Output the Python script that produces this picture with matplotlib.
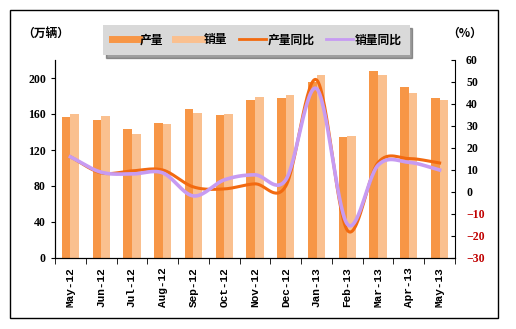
import numpy as np
import matplotlib
matplotlib.use("Agg")
import matplotlib.pyplot as plt
from matplotlib.lines import Line2D
from matplotlib.patches import Rectangle

months = ["May-12", "Jun-12", "Jul-12", "Aug-12", "Sep-12", "Oct-12", "Nov-12",
          "Dec-12", "Jan-13", "Feb-13", "Mar-13", "Apr-13", "May-13"]
production = [157, 153, 143, 150, 166, 159, 176, 178, 196, 134, 208, 190, 178]
sales = [160, 158, 138, 149, 161, 160, 179, 181, 203, 136, 203, 183, 176]
prod_yoy = [16.0, 8.7, 9.6, 10.0, 2.3, 1.4, 3.7, 2.7, 51.0, -17.4, 13.4, 15.2, 13.2]
sales_yoy = [16.0, 9.0, 8.2, 8.7, -1.8, 5.5, 7.8, 5.5, 47.0, -14.6, 12.2, 13.5, 10.0]

c_prod = "#F79646"
c_sales = "#FAC08F"
c_pline = "#F26A10"
c_sline = "#C79BF2"

cjk = ["Noto Sans CJK SC", "DejaVu Sans"]


def smooth(xs, ys, n=30):
    xs = np.asarray(xs, float)
    ys = np.asarray(ys, float)
    px = np.concatenate([[2 * xs[0] - xs[1]], xs, [2 * xs[-1] - xs[-2]]])
    py = np.concatenate([[2 * ys[0] - ys[1]], ys, [2 * ys[-1] - ys[-2]]])
    ox, oy = [], []
    for i in range(1, len(px) - 2):
        t = np.linspace(0, 1, n, endpoint=False)
        for arr, out in ((px, ox), (py, oy)):
            p0, p1, p2, p3 = arr[i - 1], arr[i], arr[i + 1], arr[i + 2]
            out.extend(0.5 * ((2 * p1) + (-p0 + p2) * t +
                              (2 * p0 - 5 * p1 + 4 * p2 - p3) * t ** 2 +
                              (-p0 + 3 * p1 - 3 * p2 + p3) * t ** 3))
    ox.append(xs[-1])
    oy.append(ys[-1])
    return np.array(ox), np.array(oy)


fig = plt.figure(figsize=(5.16, 3.29), dpi=100)
fig.patches.append(Rectangle((10 / 516, 1 - 318 / 329), 488 / 516, 308 / 329,
                             transform=fig.transFigure, fill=False,
                             edgecolor="black", linewidth=1.0))

ax = fig.add_axes([55 / 516, 1 - 258 / 329, 400 / 516, 198 / 329])
x = np.arange(len(months))
w = 0.28
ax.bar(x - w / 2, production, width=w, color=c_prod, zorder=2)
ax.bar(x + w / 2, sales, width=w, color=c_sales, zorder=2)
ax.set_xlim(-0.5, len(months) - 0.5)
ax.set_ylim(0, 220)
ax.set_yticks(range(0, 201, 40))
ax.set_xticks(x)
ax.set_xticklabels(months, rotation=90, fontsize=8, fontweight="bold",
                   family="Liberation Mono")
ax.set_xticks(np.arange(-0.5, len(months), 1), minor=True)
ax.tick_params(axis="x", which="major", length=0, pad=7)
ax.tick_params(axis="x", which="minor", length=4, direction="out")
ax.tick_params(axis="y", length=3, direction="out", labelsize=8.5)
for lab in ax.get_yticklabels():
    lab.set_fontweight("bold")
    lab.set_family("Liberation Serif")
ax.spines["top"].set_visible(False)
ax.spines["right"].set_visible(False)

ax2 = ax.twinx()
ax2.set_ylim(-30, 60)
ax2.set_yticks(range(-30, 61, 10))
sx, sy = smooth(x, sales_yoy)
px_, py_ = smooth(x, prod_yoy)
ax2.plot(px_, py_, color=c_pline, linewidth=2.2, zorder=3)
ax2.plot(sx, sy, color=c_sline, linewidth=2.6, zorder=4)
ax2.tick_params(axis="y", length=3, direction="in", labelsize=8.5, pad=8)
for lab, v in zip(ax2.get_yticklabels(), range(-30, 61, 10)):
    lab.set_fontweight("bold")
    lab.set_family("Liberation Serif")
    if v < 0:
        lab.set_color("#C00000")
ax2.spines["top"].set_visible(False)

fig.text(22 / 516, 1 - 33 / 329, "（万辆）", fontsize=8.5, fontweight="bold",
         family=cjk, ha="left", va="center")
fig.text(447 / 516, 1 - 33 / 329, "（%）", fontsize=8.5, fontweight="bold",
         family=cjk, ha="left", va="center")

handles = [Line2D([], [], color=c_prod, lw=5),
           Line2D([], [], color=c_sales, lw=5),
           Line2D([], [], color=c_pline, lw=2),
           Line2D([], [], color=c_sline, lw=2)]
leg = fig.legend(handles, ["产量", "销量", "产量同比", "销量同比"],
                 loc="center", bbox_to_anchor=(0.497, 1 - 40 / 329), ncol=4,
                 frameon=True, fancybox=False, shadow=True,
                 facecolor="#D9D9D9", edgecolor="none", framealpha=1,
                 handlelength=2.3, handletextpad=0.1, columnspacing=1.0,
                 prop={"family": cjk, "weight": "bold", "size": 8.5},
                 borderpad=0.7)

fig.savefig("out.png", dpi=100)
